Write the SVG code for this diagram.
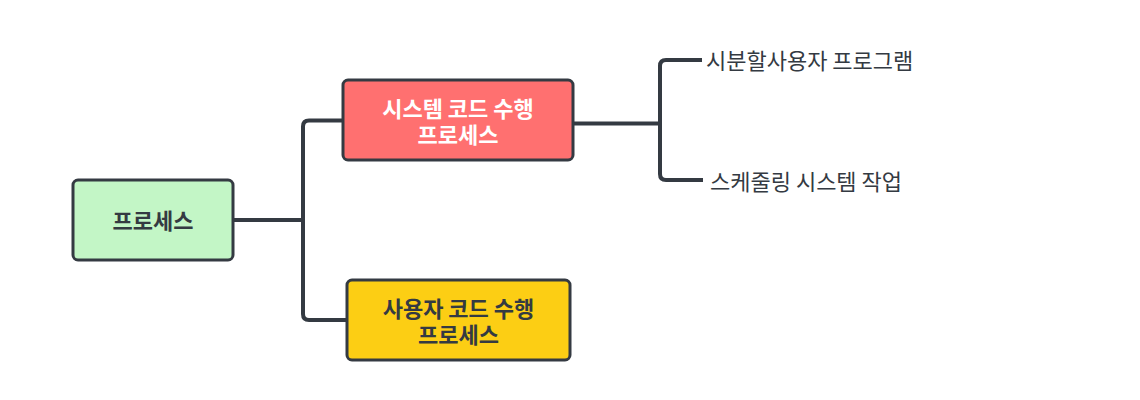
<svg xmlns="http://www.w3.org/2000/svg" width="1140" height="400" viewBox="0 0 1140 400">
<style>
.box{stroke:#343a42;stroke-width:3}
.lbl{font-family:"Noto Sans CJK KR","Noto Sans",sans-serif;font-size:22px;font-weight:bold;text-anchor:middle;dominant-baseline:central}
.leaf{font-family:"Noto Sans CJK KR","Noto Sans",sans-serif;font-size:22px;fill:#343a42;dominant-baseline:central}
.conn{fill:none;stroke:#343a42;stroke-width:4;stroke-linejoin:round}
</style>
<rect width="1140" height="400" fill="#ffffff"/>
<g id="connectors">
<path class="conn" d="M233 220 H303"/>
<path class="conn" d="M343 120.5 H309 Q303 120.5 303 126.5 V314 Q303 320 309 320 H347"/>
<path class="conn" d="M573 123.5 H660"/>
<path class="conn" d="M702 60 H666 Q660 60 660 66 V174 Q660 180 666 180 H703"/>
</g>
<g id="root">
<rect class="box" x="73" y="180" width="160" height="80" rx="5" fill="#c3f6c6"/>
<text class="lbl" x="153" y="219" fill="#343a42">프로세스</text>
</g>
<g id="system">
<rect class="box" x="343" y="80" width="230" height="80" rx="5" fill="#ff7070"/>
<text class="lbl" fill="#ffffff"><tspan x="458" y="107">시스템 코드 수행</tspan><tspan x="458" y="133">프로세스</tspan></text>
</g>
<g id="user">
<rect class="box" x="347" y="280" width="223" height="80" rx="5" fill="#fcce14"/>
<text class="lbl" fill="#343a42"><tspan x="458.5" y="307">사용자 코드 수행</tspan><tspan x="458.5" y="333">프로세스</tspan></text>
</g>
<g id="leaf1">
<text class="leaf" x="706" y="59">시분할사용자 프로그램</text>
</g>
<g id="leaf2">
<text class="leaf" x="710" y="180">스케줄링 시스템 작업</text>
</g>
</svg>
